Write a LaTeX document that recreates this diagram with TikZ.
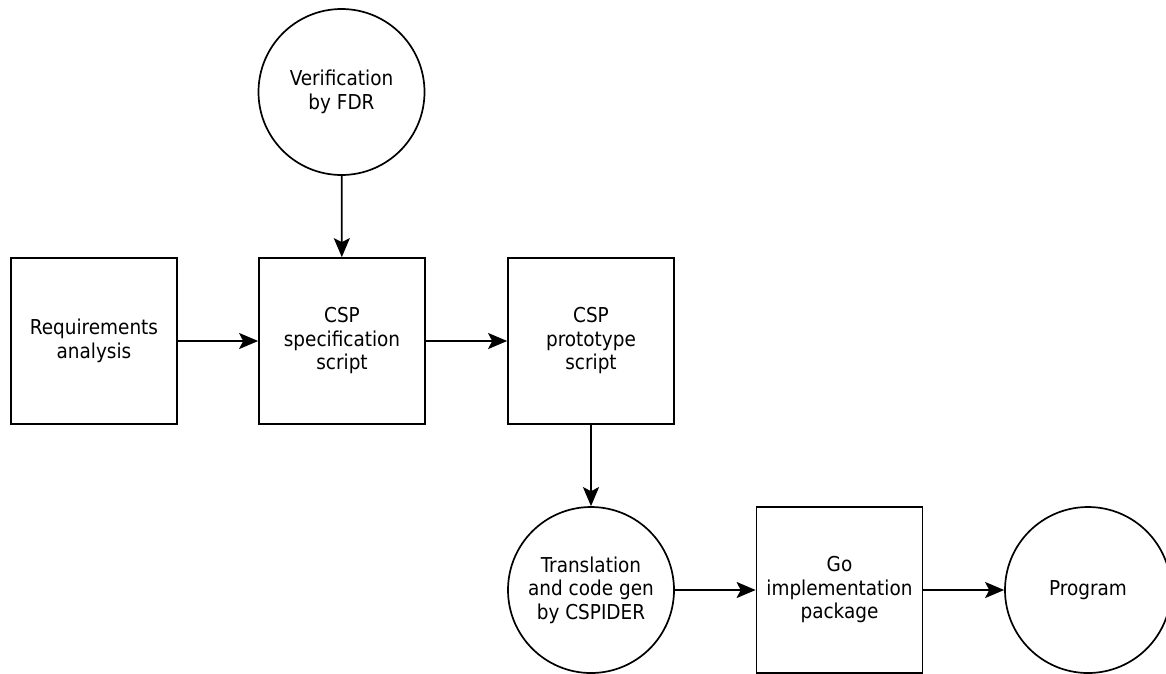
\documentclass[tikz,border=0pt]{standalone}
\usepackage{fontspec}
\setmainfont{DejaVu Sans Condensed}
\usetikzlibrary{arrows.meta}
\begin{document}
\begin{tikzpicture}[x=1pt,y=-1pt,
  every node/.style={font=\fontsize{20.5}{23.5}\selectfont, align=center, line width=1.7pt},
  boxnode/.style={draw, rectangle, minimum width=166pt, minimum height=166pt, inner sep=0pt},
  circnode/.style={draw, circle, minimum size=166pt, inner sep=0pt},
  conn/.style={line width=1.7pt, -{Stealth[length=19pt,width=16pt,inset=4pt]}}]
\useasboundingbox (0,0) rectangle (1166,673);
\node[circnode] (fdr) at (341.5,92) {Verification\\by FDR};
\node[boxnode] (req) at (94,341) {Requirements\\analysis};
\node[boxnode] (spec) at (342,341) {CSP\\specification\\script};
\node[boxnode] (proto) at (591,341) {CSP\\prototype\\script};
\node[circnode] (trans) at (591,590) {Translation\\and code gen\\by CSPIDER};
\node[boxnode] (go) at (839.5,590) {Go\\implementation\\package};
\node[circnode] (prog) at (1088,590) {Program};
\draw[conn] (fdr) -- (spec);
\draw[conn] (req) -- (spec);
\draw[conn] (spec) -- (proto);
\draw[conn] (proto) -- (trans);
\draw[conn] (trans) -- (go);
\draw[conn] (go) -- (prog);
\end{tikzpicture}
\end{document}
